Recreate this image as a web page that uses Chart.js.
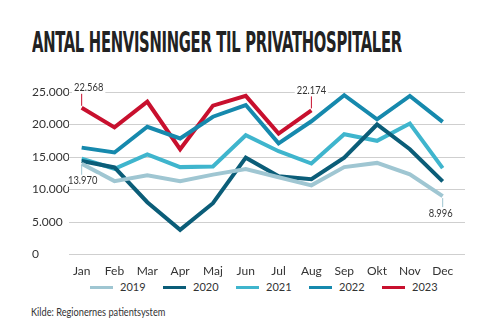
<!DOCTYPE html>
<html>
<head>
<meta charset="utf-8">
<script src="https://cdn.jsdelivr.net/npm/chart.js@4"></script>
<style>
  body { margin: 0; width: 500px; height: 333px; background: #fff; position: relative; overflow: hidden; font-family: Lato, sans-serif; }
  #title { position: absolute; left: 32px; top: 26px; margin: 0; font-family: "DejaVu Sans", sans-serif; font-stretch: condensed; font-weight: bold; font-size: 28px; color: #222; white-space: nowrap; transform-origin: 0 0; letter-spacing: -0.5px; }
  #wrap { position: absolute; left: 0; top: 75px; width: 500px; height: 204px; }
  #legend { position: absolute; left: 0; top: 280px; width: 500px; height: 14px; }
  .item { position: absolute; top: 0; height: 14px; font-size: 11px; line-height: 14px; color: #333; }
  .item i { position: absolute; left: 0; top: 6px; width: 23px; height: 3px; }
  .item span { position: absolute; left: 30px; top: 0; }
  #source { position: absolute; left: 31px; top: 305px; font-size: 11px; color: #333; white-space: nowrap; transform-origin: 0 0; }
</style>
</head>
<body>
<h1 id="title">ANTAL HENVISNINGER TIL PRIVATHOSPITALER</h1>
<div id="wrap"><canvas id="myChart"></canvas></div>
<div id="legend"></div>
<div id="source">Kilde: Regionernes patientsystem</div>
<script>
const months = ["Jan", "Feb", "Mar", "Apr", "Maj", "Jun", "Jul", "Aug", "Sep", "Okt", "Nov", "Dec"];
const years = ["2019", "2020", "2021", "2022", "2023"];
const v2019 = [13970, 11300, 12200, 11300, 12300, 13150, 11900, 10650, 13450, 14100, 12350, 8996];
const v2020 = [14400, 13400, 8050, 3800, 7900, 14900, 12050, 11600, 14900, 20000, 16200, 11250];
const v2021 = [14750, 13200, 15400, 13450, 13550, 18350, 15900, 14000, 18500, 17500, 20150, 13300];
const v2022 = [16450, 15700, 19650, 17850, 21200, 23000, 17100, 20500, 24500, 20800, 24400, 20400];
const v2023 = [22568, 19550, 23500, 16200, 22900, 24400, 18600, 22174];
const yTicks = [0, 5000, 10000, 15000, 20000, 25000];
const colors = ["#9fc6d2", "#0b5d78", "#3fb5cd", "#1689ad", "#c8102e"];
const FONT = "Lato";

// squeeze title and source to the reference widths
const t = document.getElementById("title");
t.style.transform = "scaleX(" + (370 / t.scrollWidth) + ")";
const src = document.getElementById("source");
src.style.transform = "scaleX(" + (134 / src.scrollWidth) + ")";

// legend built from the same arrays
const lg = document.getElementById("legend");
years.forEach((y, k) => {
  const d = document.createElement("div");
  d.className = "item";
  d.style.left = (90 + k * 73) + "px";
  d.innerHTML = '<i style="background:' + colors[k] + '"></i><span>' + y + "</span>";
  lg.appendChild(d);
});

const fmt = v => String(v).replace(/\B(?=(\d{3})+(?!\d))/g, ".");

// callouts: [dataset, month index, above?, x shift]
const callouts = [[4, 0, true, 7], [0, 0, false, 1], [4, 7, true, 0], [0, 11, false, -2]];

const calloutPlugin = {
  id: "callouts",
  afterDatasetsDraw(chart) {
    const c = chart.ctx;
    callouts.forEach(([d, i, up, dx]) => {
      const pt = chart.getDatasetMeta(d).data[i];
      const val = chart.data.datasets[d].data[i].y;
      const tx = pt.x + dx;
      const ty = up ? pt.y - 20 : pt.y + 17;
      c.save();
      c.strokeStyle = colors[d];
      c.lineWidth = 1;
      c.beginPath();
      c.moveTo(pt.x, up ? pt.y - 2 : pt.y + 2);
      c.lineTo(pt.x, up ? ty + 5 : ty - 5);
      c.stroke();
      c.font = "11px " + FONT;
      c.textAlign = "center";
      c.textBaseline = "middle";
      const w = c.measureText(fmt(val)).width * 0.85;
      c.fillStyle = "#fff";
      c.fillRect(tx - w / 2 - 2, ty - 6, w + 4, 12);
      c.translate(tx, ty);
      c.scale(0.85, 1);
      c.fillStyle = "#333";
      c.fillText(fmt(val), 0, 0);
      c.restore();
    });
  }
};

const series = [v2019, v2020, v2021, v2022, v2023];

new Chart(document.getElementById("myChart"), {
  type: "line",
  data: {
    datasets: series.map((vals, k) => ({
      label: years[k],
      data: vals.map((v, i) => ({ x: i, y: v })),
      borderColor: colors[k],
      backgroundColor: colors[k],
      borderWidth: 4,
      pointRadius: 0,
      tension: 0
    }))
  },
  options: {
    animation: false,
    responsive: true,
    maintainAspectRatio: false,
    layout: { padding: { left: 32, right: 35, top: 17, bottom: 0 } },
    scales: {
      x: {
        type: "linear",
        min: -0.386,
        max: 11.68,
        afterBuildTicks: s => { s.ticks = months.map((m, i) => ({ value: i })); },
        ticks: {
          callback: v => months[v],
          color: "#333",
          font: { family: FONT, size: 12 },
          maxRotation: 0,
          autoSkip: false,
          padding: 1
        },
        grid: { display: false },
        border: { display: false }
      },
      y: {
        min: 0,
        max: 25000,
        afterBuildTicks: s => { s.ticks = yTicks.map(v => ({ value: v })); },
        afterFit: s => { s.width = 37; },
        ticks: {
          callback: v => fmt(v),
          color: "#333",
          font: { family: FONT, size: 12 },
          crossAlign: "far",
          padding: 0
        },
        grid: { color: "#cfcfcf", lineWidth: 1, drawTicks: false },
        border: { display: false }
      }
    },
    plugins: {
      legend: { display: false },
      tooltip: { enabled: false }
    }
  },
  plugins: [calloutPlugin]
});
</script>
</body>
</html>
